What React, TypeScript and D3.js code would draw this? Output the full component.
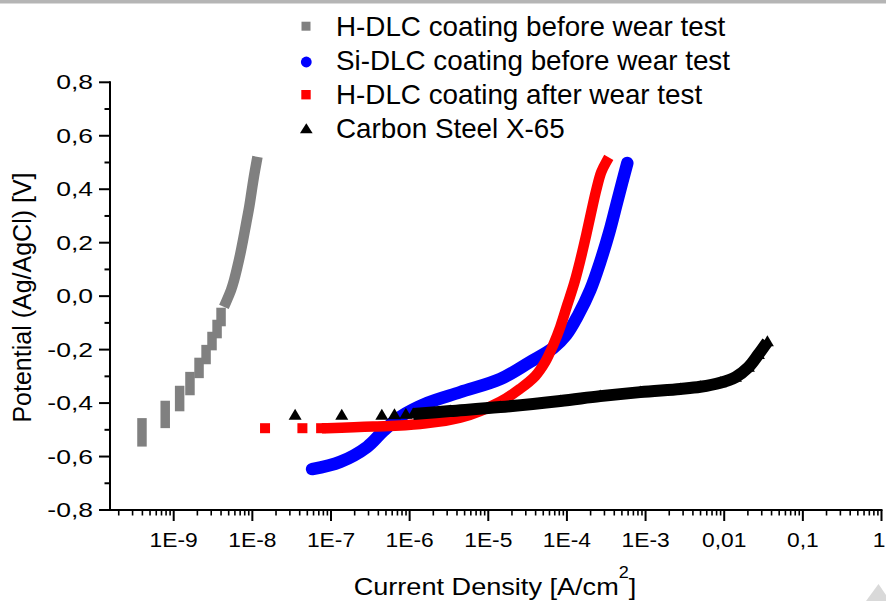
import React from 'react';
import * as d3 from 'd3';

const W = 886;
const H = 601;

const yTickValues = [-0.8, -0.6, -0.4, -0.2, 0, 0.2, 0.4, 0.6, 0.8];
const yTickLabels = ['-0,8', '-0,6', '-0,4', '-0,2', '0,0', '0,2', '0,4', '0,6', '0,8'];
const yMinorTicks = [-0.7, -0.5, -0.3, -0.1, 0.1, 0.3, 0.5, 0.7];
const xTickValues = [1e-9, 1e-8, 1e-7, 1e-6, 1e-5, 1e-4, 1e-3, 1e-2, 1e-1, 1];
const xTickLabels = ['1E-9', '1E-8', '1E-7', '1E-6', '1E-5', '1E-4', '1E-3', '0,01', '0,1', '1'];

const legendLabels = [
  'H-DLC coating before wear test',
  'Si-DLC coating before wear test',
  'H-DLC coating after wear test',
  'Carbon Steel X-65',
];
const seriesColors = ['#808080', '#0000ff', '#ff0000', '#000000'];

// H-DLC before wear test: quantised low-current steps [current, E low, E high]
const hdlcBeforeSteps: [number, number, number][] = [
  [3.95e-10, -0.545, -0.474],
  [7.8e-10, -0.476, -0.409],
  [1.19e-9, -0.413, -0.353],
  [1.61e-9, -0.353, -0.301],
  [2.1e-9, -0.289, -0.248],
  [2.58e-9, -0.237, -0.2],
  [3.07e-9, -0.185, -0.151],
  [3.56e-9, -0.14, -0.106],
  [4.0e-9, -0.095, -0.061],
];
// H-DLC before wear test: continuous part [current, E]
const hdlcBeforeCurve: [number, number][] = [
  [4.63e-9, -0.022],
  [5.36e-9, 0.023],
  [5.86e-9, 0.06],
  [6.4e-9, 0.105],
  [6.98e-9, 0.154],
  [7.62e-9, 0.21],
  [8.32e-9, 0.27],
  [9.08e-9, 0.33],
  [9.77e-9, 0.39],
  [1.05e-8, 0.449],
  [1.13e-8, 0.502],
];

const siDlcCurve: [number, number][] = [
  [5.75e-8, -0.647],
  [1.31e-7, -0.62],
  [2.88e-7, -0.564],
  [4.61e-7, -0.505],
  [7.57e-7, -0.452],
  [1.67e-6, -0.4],
  [4.4e-6, -0.359],
  [1.42e-5, -0.31],
  [3.41e-5, -0.246],
  [6.69e-5, -0.194],
  [9.8e-5, -0.145],
  [1.39e-4, -0.071],
  [1.98e-4, 0.023],
  [2.65e-4, 0.128],
  [3.46e-4, 0.24],
  [4.25e-4, 0.341],
  [5.06e-4, 0.427],
  [5.86e-4, 0.498],
];

const hdlcAfterPoints: [number, number][] = [
  [1.45e-8, -0.494],
  [4.33e-8, -0.494],
  [7.49e-8, -0.494],
];
const hdlcAfterCurve: [number, number][] = [
  [8.93e-8, -0.494],
  [3.43e-7, -0.488],
  [1.36e-6, -0.478],
  [4.4e-6, -0.455],
  [1.42e-5, -0.395],
  [2.55e-5, -0.346],
  [3.95e-5, -0.299],
  [5.3e-5, -0.246],
  [6.69e-5, -0.183],
  [8.23e-5, -0.115],
  [1.01e-4, -0.033],
  [1.24e-4, 0.049],
  [1.48e-4, 0.135],
  [1.76e-4, 0.229],
  [2.04e-4, 0.315],
  [2.36e-4, 0.397],
  [2.73e-4, 0.464],
  [3.16e-4, 0.502],
];

const steelPoints: [number, number][] = [
  [3.5e-8, -0.442],
  [1.37e-7, -0.442],
  [4.43e-7, -0.442],
  [6.41e-7, -0.44],
  [8.95e-7, -0.438],
];
const steelCurve: [number, number][] = [
  [1.11e-6, -0.441],
  [3.28e-6, -0.43],
  [1.42e-5, -0.415],
  [8.23e-5, -0.392],
  [2.65e-4, -0.374],
  [8.57e-4, -0.359],
  [2.77e-3, -0.347],
  [4.97e-3, -0.339],
  [8.93e-3, -0.324],
  [1.39e-2, -0.303],
  [2.03e-2, -0.266],
  [2.72e-2, -0.218],
  [3.54e-2, -0.171],
];

const FONT = 'Liberation Sans, Arial, sans-serif';

function tri(cx: number, cy: number, w: number, h: number) {
  return `M${cx - w / 2},${cy + h / 2}L${cx + w / 2},${cy + h / 2}L${cx},${cy - h / 2}Z`;
}

export default function App() {
  const x = d3.scaleLog().domain([Math.pow(10, -9.81), 1]).range([110, 881.5]);
  const y = d3.scaleLinear().domain([-0.8, 0.8]).range([510, 82.3]);
  const line = d3
    .line<[number, number]>()
    .x((d) => x(d[0]))
    .y((d) => y(d[1]))
    .curve(d3.curveCatmullRom.alpha(0.5));

  const xMinor: number[] = [];
  for (let e = -10; e < 0; e++) {
    for (let k = 2; k <= 9; k++) {
      const v = k * Math.pow(10, e);
      if (v >= x.domain()[0] && v < 1) xMinor.push(v);
    }
  }

  const x0 = 110;
  const yBase = 510;

  return (
    <svg
      width={W}
      height={H}
      style={{ position: 'absolute', left: 0, top: 0, display: 'block', background: '#fff' }}
    >
      <rect x={0} y={0} width={W} height={H} fill="#fff" />
      <rect x={0} y={0} width={W} height={3.5} fill="#b5b5b5" />
      <polygon points="866,601 878.5,584 886,595 886,601" fill="#d9d9d9" />

      {/* H-DLC before */}
      <g>
        {hdlcBeforeSteps.map((s, i) => (
          <line
            key={i}
            x1={x(s[0])}
            x2={x(s[0])}
            y1={y(s[1])}
            y2={y(s[2])}
            stroke={seriesColors[0]}
            strokeWidth={9.5}
            strokeLinecap="square"
          />
        ))}
        <path
          d={line(hdlcBeforeCurve) || ''}
          fill="none"
          stroke={seriesColors[0]}
          strokeWidth={10.5}
          strokeLinejoin="round"
          strokeLinecap="square"
        />
      </g>

      {/* Si-DLC */}
      <path
        d={line(siDlcCurve) || ''}
        fill="none"
        stroke={seriesColors[1]}
        strokeWidth={12.5}
        strokeLinejoin="round"
        strokeLinecap="round"
      />

      {/* H-DLC after */}
      <g>
        {hdlcAfterPoints.map((p, i) => (
          <rect
            key={i}
            x={x(p[0]) - 5}
            y={y(p[1]) - 5}
            width={10}
            height={10}
            fill={seriesColors[2]}
          />
        ))}
        <path
          d={line(hdlcAfterCurve) || ''}
          fill="none"
          stroke={seriesColors[2]}
          strokeWidth={10.5}
          strokeLinejoin="round"
          strokeLinecap="square"
        />
      </g>

      {/* Carbon steel */}
      <g>
        {steelPoints.map((p, i) => (
          <path key={i} d={tri(x(p[0]), y(p[1]), 13, 11)} fill={seriesColors[3]} />
        ))}
        <path
          d={line(steelCurve) || ''}
          fill="none"
          stroke={seriesColors[3]}
          strokeWidth={12}
          strokeLinejoin="round"
          strokeLinecap="butt"
        />
        {steelCurve.map((p, i) => (
          <path key={'c' + i} d={tri(x(p[0]), y(p[1]) - 1, 13, 11)} fill={seriesColors[3]} />
        ))}
      </g>

      {/* Axes */}
      <g stroke="#000" fill="none">
        <line x1={x0} x2={x0} y1={y(0.8) - 1} y2={yBase + 1} strokeWidth={2} />
        <line x1={x0 - 1} x2={x(1) + 1} y1={yBase} y2={yBase} strokeWidth={2} />
        {yTickValues.map((v, i) => (
          <line key={'yt' + i} x1={x0 - 11} x2={x0} y1={y(v)} y2={y(v)} strokeWidth={2} />
        ))}
        {yMinorTicks.map((v, i) => (
          <line key={'ym' + i} x1={x0 - 5.5} x2={x0} y1={y(v)} y2={y(v)} strokeWidth={2} />
        ))}
        {xTickValues.map((v, i) => (
          <line key={'xt' + i} x1={x(v)} x2={x(v)} y1={yBase} y2={yBase + 11} strokeWidth={2} />
        ))}
        {xMinor.map((v, i) => (
          <line key={'xm' + i} x1={x(v)} x2={x(v)} y1={yBase} y2={yBase + 5.5} strokeWidth={1.6} />
        ))}
      </g>

      <g fontFamily={FONT} fill="#000">
        {yTickValues.map((v, i) => (
          <text
            key={'yl' + i}
            transform={`translate(${x0 - 17},${y(v) + 7}) scale(1.36,1)`}
            textAnchor="end"
            fontSize={19.5}
          >
            {yTickLabels[i]}
          </text>
        ))}
        {xTickValues.map((v, i) => (
          <text
            key={'xl' + i}
            transform={`translate(${Math.min(x(v), 879)},546.5) scale(1.17,1)`}
            textAnchor="middle"
            fontSize={19.5}
          >
            {xTickLabels[i]}
          </text>
        ))}
        <text transform="translate(495,595) scale(1.13,1)" textAnchor="middle" fontSize={24}>
          Current Density [A/cm
          <tspan fontSize={16} dy={-17}>
            2
          </tspan>
          <tspan dy={17}>]</tspan>
        </text>
        <text transform="translate(30.5,297.5) rotate(-90)" textAnchor="middle" fontSize={25}>
          Potential (Ag/AgCl) [V]
        </text>
      </g>

      {/* Legend */}
      <g fontFamily={FONT}>
        <rect x={306 - 4.5} y={26.2 - 4.5} width={9} height={9} fill={seriesColors[0]} />
        <circle cx={306.3} cy={62} r={5.4} fill={seriesColors[1]} />
        <rect x={306 - 4.7} y={94.7 - 4.7} width={9.4} height={9.4} fill={seriesColors[2]} />
        <path d={tri(306.3, 128.3, 12.7, 10)} fill={seriesColors[3]} />
        {legendLabels.map((t, i) => (
          <text key={'lg' + i} x={336} y={35.7 + i * 34.2} fontSize={27.8} fill="#000">
            {t}
          </text>
        ))}
      </g>
    </svg>
  );
}
